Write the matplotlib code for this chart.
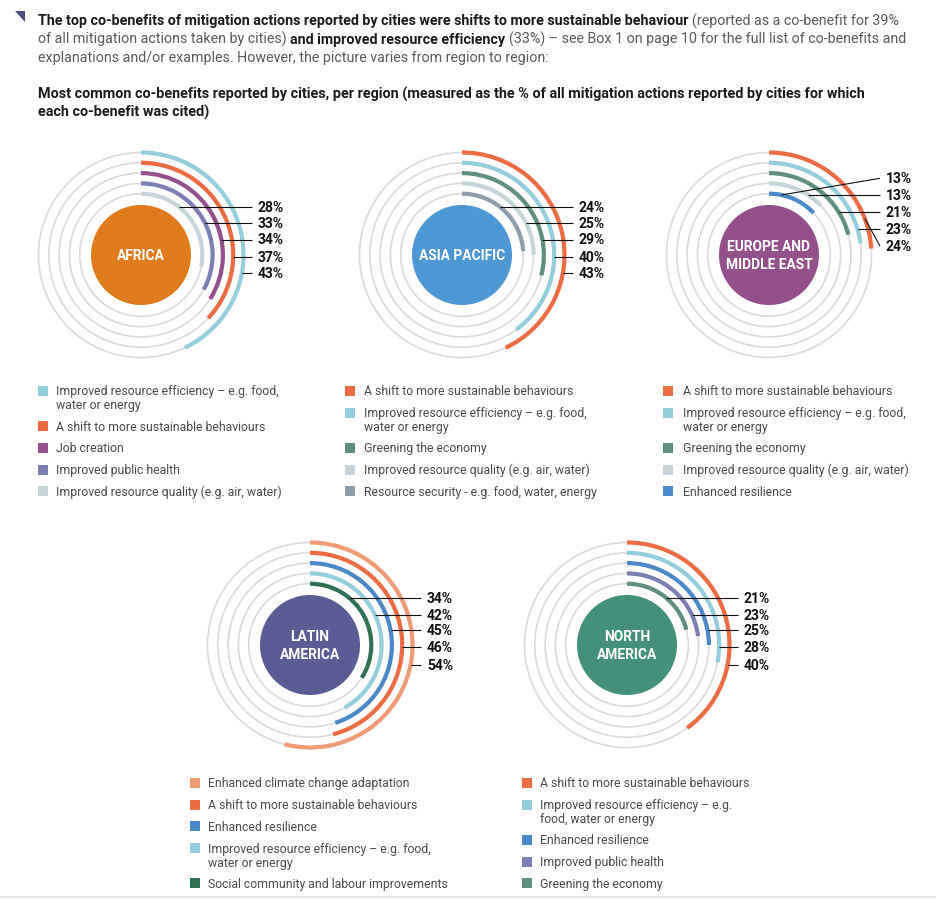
import matplotlib
matplotlib.use('Agg')
import matplotlib.pyplot as plt
from matplotlib.patches import Arc, Circle, Rectangle, Polygon
import numpy as np

plt.rcParams['font.family'] = ['Roboto', 'DejaVu Sans']

W, H, DPI = 937, 899, 100

# ---------------- data ----------------
regions = ["AFRICA", "ASIA PACIFIC", "EUROPE AND\nMIDDLE EAST", "LATIN\nAMERICA", "NORTH\nAMERICA"]

africa_benefits = ["Improved resource efficiency – e.g. food,\nwater or energy",
                   "A shift to more sustainable behaviours",
                   "Job creation",
                   "Improved public health",
                   "Improved resource quality (e.g. air, water)"]
africa_values = [43, 37, 34, 33, 28]

asia_benefits = ["A shift to more sustainable behaviours",
                 "Improved resource efficiency – e.g. food,\nwater or energy",
                 "Greening the economy",
                 "Improved resource quality (e.g. air, water)",
                 "Resource security - e.g. food, water, energy"]
asia_values = [43, 40, 29, 25, 24]

europe_benefits = ["A shift to more sustainable behaviours",
                   "Improved resource efficiency – e.g. food,\nwater or energy",
                   "Greening the economy",
                   "Improved resource quality (e.g. air, water)",
                   "Enhanced resilience"]
europe_values = [24, 23, 21, 13, 13]

latam_benefits = ["Enhanced climate change adaptation",
                  "A shift to more sustainable behaviours",
                  "Enhanced resilience",
                  "Improved resource efficiency – e.g. food,\nwater or energy",
                  "Social community and labour improvements"]
latam_values = [54, 46, 45, 42, 34]

namerica_benefits = ["A shift to more sustainable behaviours",
                     "Improved resource efficiency – e.g.\nfood, water or energy",
                     "Enhanced resilience",
                     "Improved public health",
                     "Greening the economy"]
namerica_values = [40, 28, 25, 23, 21]

benefit_colors = {
    "efficiency": "#92CEDC",
    "shift": "#EC6B40",
    "job": "#944F8C",
    "health": "#7C7EB4",
    "quality": "#C6D4D7",
    "greening": "#5E907B",
    "security": "#8E9DAC",
    "resilience": "#4A89C9",
    "adaptation": "#F29A74",
    "social": "#2E7254",
}
region_colors = ["#E07B1C", "#4D97D5", "#93508B", "#5A5C96", "#44907A"]


def color_for(name):
    n = name.lower()
    if "efficiency" in n: return benefit_colors["efficiency"]
    if "shift" in n: return benefit_colors["shift"]
    if "job" in n: return benefit_colors["job"]
    if "health" in n: return benefit_colors["health"]
    if "quality" in n: return benefit_colors["quality"]
    if "greening" in n: return benefit_colors["greening"]
    if "security" in n: return benefit_colors["security"]
    if "resilience" in n: return benefit_colors["resilience"]
    if "adaptation" in n: return benefit_colors["adaptation"]
    return benefit_colors["social"]


# ---------------- layout ----------------
fig = plt.figure(figsize=(W / DPI, H / DPI), dpi=DPI)
ax = fig.add_axes([0, 0, 1, 1])
ax.set_xlim(0, W)
ax.set_ylim(H, 0)
ax.axis('off')
renderer = fig.canvas.get_renderer()

PX = 72.0 / DPI  # points per pixel


def text_width(s, size, weight):
    t = ax.text(0, 0, s, fontsize=size, fontweight=weight)
    w = t.get_window_extent(renderer=renderer).width
    t.remove()
    return w


def baseline(yc, size):
    # convert visual centre of capitals to baseline
    return yc + 0.36 * size / PX


def rich_line(x, yc, parts, size):
    sp = text_width("x x", size, 'normal') - text_width("xx", size, 'normal')
    for i, (s, bold, col) in enumerate(parts):
        w = 'bold' if bold else 'normal'
        lead = s.startswith(' ')
        s2 = s.strip(' ')
        if lead:
            x += sp
        t = ax.text(x, baseline(yc, size), s2, fontsize=size, fontweight=w,
                    color=col, ha='left', va='baseline')
        x += t.get_window_extent(renderer=renderer).width
        if s.endswith(' '):
            x += sp
    return x


BLK = "#1a1a1a"
GRY = "#5a5a5a"

# header triangle
ax.add_patch(Polygon([(15, 11), (25, 11), (25, 22)], closed=True,
                     facecolor="#4B4E7C", edgecolor='none'))

# fit header size to reference width
l1 = [("The top co-benefits of mitigation actions reported by cities were shifts to more sustainable behaviour", True, BLK),
      (" (reported as a co-benefit for 39%", False, GRY)]
l2 = [("of all mitigation actions taken by cities) ", False, GRY),
      ("and improved resource efficiency", True, BLK),
      (" (33%) – see Box 1 on page 10 for the full list of co-benefits and", False, GRY)]
l3 = [("explanations and/or examples. However, the picture varies from region to region:", False, GRY)]

ref_size = 10.0
w1 = text_width(l1[0][0], ref_size, 'bold') + text_width(l1[1][0].strip(), ref_size, 'normal') + 3
hsize = ref_size * (905 - 38) / w1
rich_line(38, 20, l1, hsize)
rich_line(38, 38.5, l2, hsize)
rich_line(38, 57, l3, hsize)

title1 = "Most common co-benefits reported by cities, per region (measured as the % of all mitigation actions reported by cities for which"
title2 = "each co-benefit was cited)"
tsize = ref_size * (870 - 38) / text_width(title1, ref_size, 'bold')
ax.text(38, baseline(94, tsize), title1, fontsize=tsize, fontweight='bold', color=BLK, va='baseline')
ax.text(38, baseline(112, tsize), title2, fontsize=tsize, fontweight='bold', color=BLK, va='baseline')

# ---------------- radial charts ----------------
all_benefits = [africa_benefits, asia_benefits, europe_benefits, latam_benefits, namerica_benefits]
all_values = [africa_values, asia_values, europe_values, latam_values, namerica_values]
centers = [(141, 255), (462, 255), (769, 255), (310, 645), (627, 645)]
label_offsets = [[-48, -32, -15.5, 1.5, 18],
                 [-48, -32, -15.5, 1.5, 18],
                 [-76.7, -60, -43.3, -25.7, -9],
                 [-47, -30.5, -15, 2, 19.5],
                 [-47, -30.5, -15, 2, 19.5]]
legend_pos = [(43, 56, 391), (350, 364, 391), (668, 683, 391), (195, 208, 783), (527, 540, 783)]
radii = [102.5, 92.2, 81.9, 71.6, 61.3]   # outer -> inner
core_r = 50
DEG_PER_PCT = 3.6

LEG_SIZE = 8.8
PCT_SIZE = 10.0
REG_SIZE = 9.9

for k in range(5):
    cx, cy = centers[k]
    bens, vals = all_benefits[k], all_values[k]
    # grey guide rings
    for r in radii:
        ax.add_patch(Circle((cx, cy), r, fill=False, edgecolor="#D9D9D9", lw=1.6 * PX))
    # coloured arcs
    for r, b, v in zip(radii, bens, vals):
        ax.add_patch(Arc((cx, cy), 2 * r, 2 * r, theta1=-90, theta2=-90 + v * DEG_PER_PCT,
                         color=color_for(b), lw=4.2 * PX, capstyle='butt'))
    # core circle
    ax.add_patch(Circle((cx, cy), core_r, facecolor=region_colors[k], edgecolor='none'))
    ax.text(cx, cy + 1, regions[k], ha='center', va='center', color='white',
            fontsize=REG_SIZE, fontweight='bold', linespacing=1.4)
    # value labels: inner ring at top
    inner_first = list(zip(radii, vals))[::-1]
    for (r, v), dy in zip(inner_first, label_offsets[k]):
        arc_end = v * DEG_PER_PCT
        ly = cy + dy
        start = None
        if abs(dy) < r:
            phi = np.degrees(np.arctan2(np.sqrt(r * r - dy * dy), -dy))
            if phi <= arc_end - 2:
                start = (cx + np.sqrt(r * r - dy * dy), ly)
        if start is None:
            phi = arc_end * 0.25 if arc_end < 60 else arc_end * 0.8
            start = (cx + r * np.sin(np.radians(phi)), cy - r * np.cos(np.radians(phi)))
        ax.plot([start[0], cx + 111], [start[1], ly], color="#111111", lw=1.1 * PX,
                solid_capstyle='butt', zorder=5)
        ax.text(cx + 117, baseline(ly, PCT_SIZE), f"{v}%", fontsize=PCT_SIZE,
                fontweight='bold', color="#111111", va='baseline', ha='left')
    # legend
    sx, tx, y0 = legend_pos[k]
    y = y0
    for b in bens:
        ax.add_patch(Rectangle((sx - 5, y - 5), 10, 10, facecolor=color_for(b), edgecolor='none'))
        lines = b.split("\n")
        for j, ln in enumerate(lines):
            ax.text(tx, baseline(y + j * 14, LEG_SIZE), ln, fontsize=LEG_SIZE,
                    color="#4a4a4a", va='baseline', ha='left')
        y += 21.7 + 14 * (len(lines) - 1) - (0.4 if len(lines) > 1 else 0)

# bottom rule
ax.plot([0, W], [897, 897], color="#E6E6E6", lw=2 * PX)

fig.savefig("out.png", dpi=DPI)
